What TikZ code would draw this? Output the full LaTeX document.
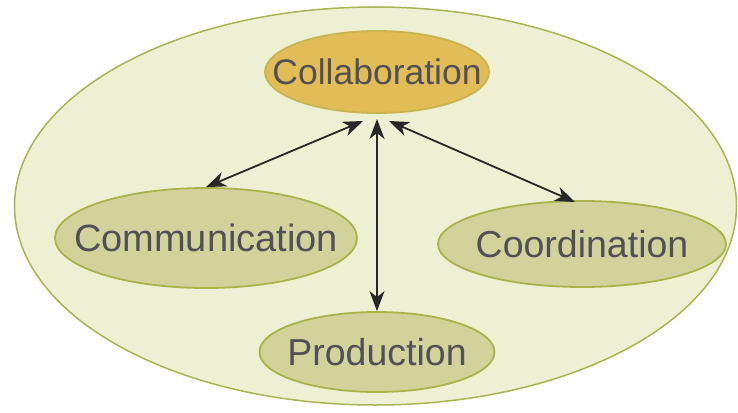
\documentclass[tikz,border=0pt]{standalone}
\usepackage{fontspec}
\setmainfont{Liberation Sans}
\usetikzlibrary{shapes.geometric,arrows.meta}
\definecolor{outerfill}{RGB}{238,240,212}
\definecolor{outerline}{RGB}{170,180,80}
\definecolor{goldfill}{RGB}{226,188,86}
\definecolor{goldline}{RGB}{200,180,80}
\definecolor{olivefill}{RGB}{210,210,155}
\definecolor{oliveline}{RGB}{168,180,74}
\definecolor{txtgray}{RGB}{80,80,88}
\definecolor{arrowgray}{RGB}{40,40,40}
\tikzset{
  tipshape/.tip={Stealth[length=20pt,width=15pt,inset=6pt]},
  bubble/.style={ellipse, draw=oliveline, fill=olivefill, line width=1.8pt, inner sep=0pt},
  goldbubble/.style={bubble, draw=goldline, fill=goldfill},
  lbl/.style={text=txtgray, inner sep=0pt},
  biarrow/.style={draw=arrowgray, line width=1.8pt, tipshape-tipshape},
}
\begin{document}
\begin{tikzpicture}[x=1pt,y=-1pt]
\useasboundingbox (0,0) rectangle (738,412);
\node[ellipse, draw=outerline, fill=outerfill, line width=1.5pt, inner sep=0pt,
      minimum width=722pt, minimum height=398pt] (outer) at (375.5,206) {};
\node[goldbubble, minimum width=224pt, minimum height=82pt] (collab) at (377,72) {};
\node[lbl, font=\fontsize{35.5}{35.5}\selectfont] (collabtxt) at (collab) {Collaboration};
\node[bubble, minimum width=302pt, minimum height=100pt] (comm) at (206,238) {};
\node[lbl, font=\fontsize{38}{38}\selectfont] (commtxt) at (comm) {Communication};
\node[bubble, minimum width=288pt, minimum height=86pt] (coord) at (582,244) {};
\node[lbl, font=\fontsize{37.5}{37.5}\selectfont] (coordtxt) at (coord) {Coordination};
\node[bubble, minimum width=235pt, minimum height=80pt] (prod) at (377,352) {};
\node[lbl, font=\fontsize{37.5}{37.5}\selectfont] (prodtxt) at (prod) {Production};
\coordinate (cL) at (363,121);
\coordinate (cM) at (377,119);
\coordinate (cR) at (389,121);
\coordinate (coordtop) at (575,202);
\draw[biarrow] (cL) -- (comm.north);
\draw[biarrow] (cR) -- (coordtop);
\draw[biarrow, line width=1.4pt] (cM) -- (prod.north);
\end{tikzpicture}
\end{document}
